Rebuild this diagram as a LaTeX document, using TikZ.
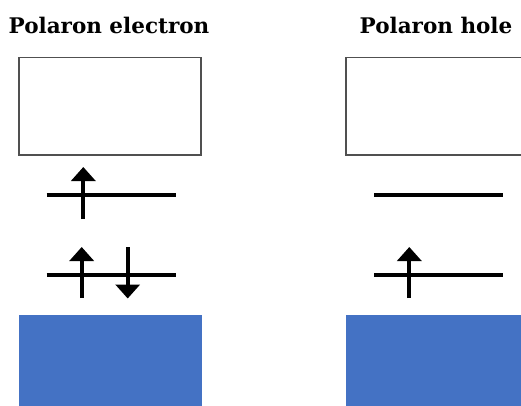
\documentclass[tikz,border=0pt]{standalone}
\usepackage{fontspec}
\setmainfont{DejaVu Serif}
\usetikzlibrary{arrows.meta}
\definecolor{bandblue}{HTML}{4472C4}
\definecolor{boxgray}{HTML}{505050}
\tikzset{
  title/.style={font=\bfseries\fontsize{21.5}{24}\selectfont, anchor=base, inner sep=0pt},
  cband/.style={draw=boxgray, line width=1.9pt, fill=white},
  vband/.style={fill=bandblue, draw=none},
  level/.style={line width=3.8pt},
  spin/.style={line width=3.8pt, -{Triangle[width=24pt,length=14pt]}},
}
\begin{document}
\begin{tikzpicture}[x=1pt,y=-1pt]
\useasboundingbox (0,0) rectangle (521,406);
\clip (0,0) rectangle (521,406);
% titles
\node[title] (t1) at (109,34) {Polaron electron};
\node[title] (t2) at (436,34) {Polaron hole};
% conduction bands
\draw[cband] (19,57.5) rectangle (201,155);
\draw[cband] (346,57.5) rectangle (540,155);
% valence bands
\fill[vband] (18.5,315) rectangle (201.5,420);
\fill[vband] (346,315) rectangle (540,420);
% left levels
\coordinate (lu1) at (46.5,194.7); \coordinate (lu2) at (175.5,194.7);
\coordinate (ll1) at (46.5,274.7); \coordinate (ll2) at (175.5,274.7);
\draw[level] (lu1) -- (lu2);
\draw[level] (ll1) -- (ll2);
\draw[spin] (83.3,219) -- (83.3,167);
\draw[spin] (81.7,298) -- (81.7,247);
\draw[spin] (127.7,247) -- (127.7,298.5);
% right levels
\coordinate (ru1) at (374.3,194.7); \coordinate (ru2) at (502.7,194.7);
\coordinate (rl1) at (374.3,274.7); \coordinate (rl2) at (502.7,274.7);
\draw[level] (ru1) -- (ru2);
\draw[level] (rl1) -- (rl2);
\draw[spin] (409.3,298) -- (409.3,247);
\end{tikzpicture}
\end{document}
